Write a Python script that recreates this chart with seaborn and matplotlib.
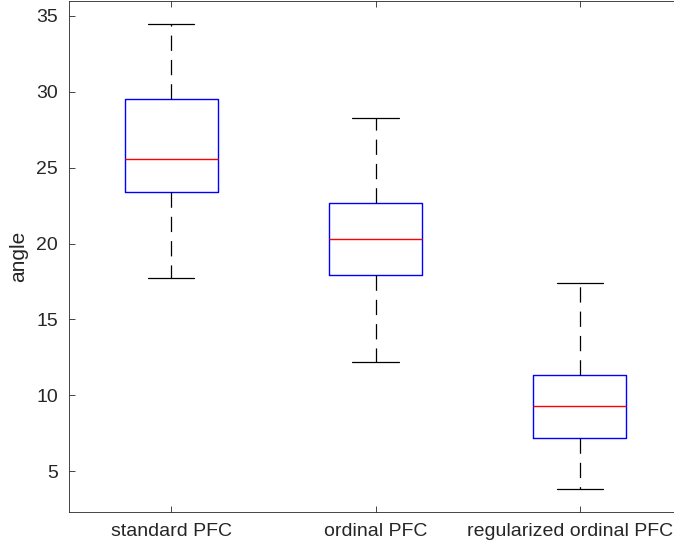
import numpy as np
import pandas as pd
import matplotlib
matplotlib.use("Agg")
import matplotlib.pyplot as plt
import matplotlib.transforms as mtransforms
import seaborn as sns

categories = ["standard PFC", "ordinal PFC", "regularized ordinal PFC"]
# five-number summaries: lower whisker, Q1, median, Q3, upper whisker
whisker_low = [17.7, 12.2, 3.8]
q1 = [23.4, 17.95, 7.2]
median = [25.6, 20.3, 9.3]
q3 = [29.5, 22.65, 11.3]
whisker_high = [34.5, 28.3, 17.4]

rows = []
for i, c in enumerate(categories):
    for v in (whisker_low[i], q1[i], median[i], q3[i], whisker_high[i]):
        rows.append({"method": c, "angle": v})
df = pd.DataFrame(rows)

sns.set_style("ticks")
plt.rcParams["font.family"] = ["Liberation Sans", "DejaVu Sans"]
plt.rcParams["lines.scale_dashes"] = False

fig = plt.figure(figsize=(6.74, 5.48), dpi=100)
ax = fig.add_axes([69 / 674, (548 - 512) / 548, 613 / 674, 511.5 / 548])

sns.boxplot(data=df, x="method", y="angle", order=categories, ax=ax,
            width=0.455, whis=(0, 100), fill=False, linecolor="black",
            linewidth=0.9,
            boxprops=dict(color="#0000ff", linewidth=1.0),
            medianprops=dict(color="#ff0000", linewidth=1.0, solid_capstyle="butt"),
            whiskerprops=dict(color="black", linewidth=0.9, linestyle=(0, (11, 6.5))),
            capprops=dict(color="black", linewidth=0.9),
            showfliers=False)

ax.set_xlim(0.5 - 1, 3.5 - 1)
ax.set_ylim(2.3, 36.02)
ax.set_yticks([5, 10, 15, 20, 25, 30, 35])
ax.set_xlabel("")
ax.set_ylabel("angle", fontsize=15, color="#262626")
ax.yaxis.set_label_coords(-0.067, 0.5)

for name, s in ax.spines.items():
    s.set_color("#262626")
    s.set_linewidth(0.6)
    s.set_visible(name != "right")

ax.tick_params(direction="in", length=4.5, width=0.6, color="#262626",
               labelsize=14, labelcolor="#262626", top=True, right=False)
ax.tick_params(axis="y", pad=8)
ax.tick_params(axis="x", pad=8)

# keep the last category label inside the figure, as in the reference
last = ax.get_xticklabels()[-1]
last.set_transform(last.get_transform() +
                   mtransforms.ScaledTranslation(-10 / 100, 0, fig.dpi_scale_trans))

fig.savefig("out.png", dpi=100)
